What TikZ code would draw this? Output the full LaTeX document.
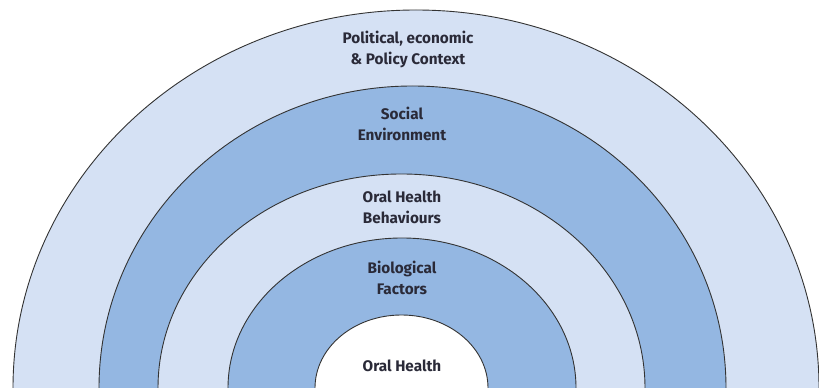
\documentclass[tikz,border=0pt]{standalone}
\usepackage{fontspec}
\setsansfont{Fira Sans}
\definecolor{lightb}{HTML}{D5E1F4}
\definecolor{midb}{HTML}{94B7E2}
\definecolor{txt}{HTML}{2A2A38}
\begin{document}
\begin{tikzpicture}[x=1pt,y=1pt,
  ring/.style={draw=black!80, line width=0.9pt},
  lbl/.style={align=center, text=txt, font=\sffamily\bfseries\fontsize{15.3}{21}\selectfont, inner sep=0pt}]
\useasboundingbox (0,0) rectangle (819,388);
\clip (0,0) rectangle (819,388);
\fill[white] (0,0) rectangle (819,388);
\draw[ring, fill=lightb] (416,0) ellipse [x radius=403, y radius=378];
\draw[ring, fill=midb] (412.5,0) ellipse [x radius=313.5, y radius=302];
\draw[ring, fill=lightb] (401.5,0) ellipse [x radius=243.5, y radius=214];
\draw[ring, fill=midb] (402,0) ellipse [x radius=174, y radius=150];
\draw[ring, fill=white] (401.5,0) ellipse [x radius=86.5, y radius=73];
\node[lbl] (pol) at (408,338.5) {Political, economic\\\& Policy Context};
\node[lbl] (soc) at (402,264) {Social\\Environment};
\node[lbl] (beh) at (402,180.5) {Oral Health\\Behaviours};
\node[lbl] (bio) at (402,110) {Biological\\Factors};
\node[lbl] (oh) at (402,22) {Oral Health};
\end{tikzpicture}
\end{document}
